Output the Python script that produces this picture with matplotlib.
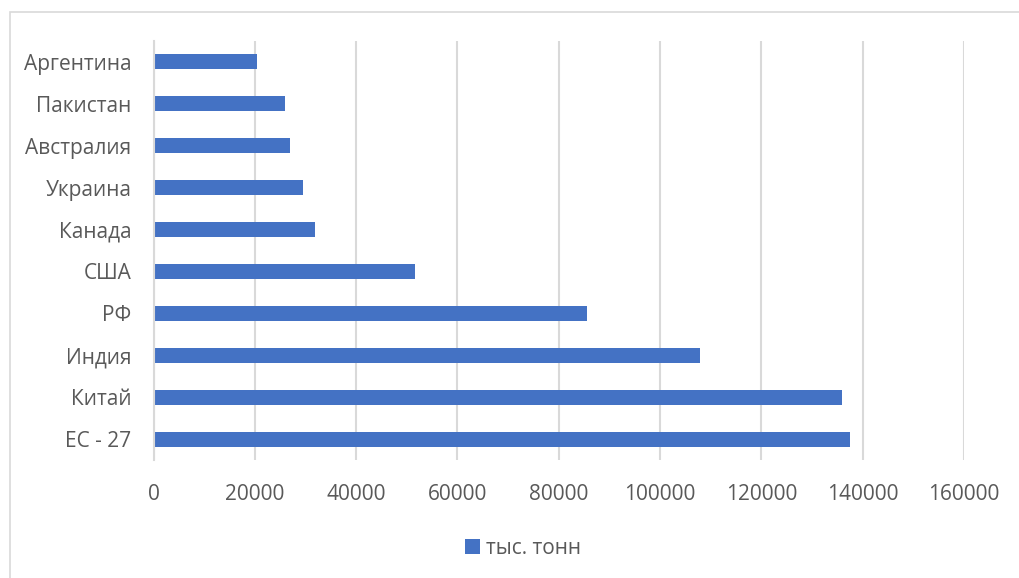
import matplotlib
matplotlib.use("Agg")
import matplotlib.pyplot as plt
from matplotlib.patches import Rectangle

# data (тыс. тонн)
countries = ["ЕС - 27", "Китай", "Индия", "РФ", "США", "Канада",
             "Украина", "Австралия", "Пакистан", "Аргентина"]
values = [137500, 136000, 107900, 85600, 51600, 31900,
          29500, 27000, 25900, 20500]
xticks = [0, 20000, 40000, 60000, 80000, 100000, 120000, 140000, 160000]
series_name = "тыс. тонн"

bar_color = "#4472C4"
text_color = "#595959"
grid_color = "#D9D9D9"

plt.rcParams['font.family'] = ['Open Sans', 'DejaVu Sans']

fig = plt.figure(figsize=(10.19, 5.78), dpi=100)
W, H = 1019, 578

# chart border (cropped at right/bottom)
fig.patches.append(Rectangle((10 / W, -0.1), 1.2, 1 - 12 / H + 0.1,
                             transform=fig.transFigure, fill=False,
                             edgecolor=grid_color, lw=1.2))

ax = fig.add_axes([153.5 / W, (578 - 460) / H, (964 - 153.5) / W, 419 / H])
bars = ax.barh(countries, values, height=0.36, color=bar_color,
               label=series_name, zorder=3)

ax.set_xlim(0, 160000)
ax.set_ylim(-0.5, len(countries) - 0.5)
ax.set_xticks(xticks)
ax.set_xticklabels([str(t) for t in xticks])
ax.grid(axis='x', color=grid_color, lw=1.5, zorder=0)
ax.tick_params(axis='both', length=0, colors=text_color, labelsize=15)
ax.tick_params(axis='x', pad=17)
ax.tick_params(axis='y', pad=16)
for s in ['top', 'right', 'bottom']:
    ax.spines[s].set_visible(False)
ax.spines['left'].set_color(grid_color)
ax.spines['left'].set_linewidth(1.5)
ax.spines['left'].set_zorder(4)

fig.legend(handles=[bars], labels=[series_name], loc='center',
           bbox_to_anchor=(523 / W, 1 - 548 / H), frameon=False,
           fontsize=15, labelcolor=text_color, handlelength=0.75,
           handleheight=0.75, handletextpad=0.3)

fig.savefig("out.png", dpi=100)
